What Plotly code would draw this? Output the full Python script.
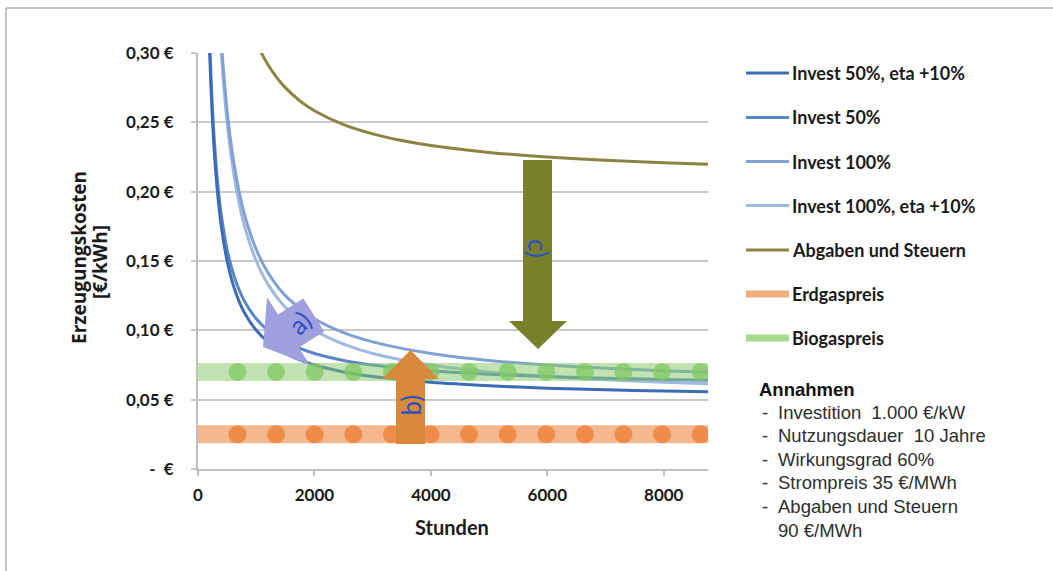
import plotly.graph_objects as go

# ---------------- data ----------------
hours_50 = [150, 175, 200, 250, 300, 350, 400, 500, 600, 700, 800, 1000, 1200,
            1500, 2000, 2500, 3000, 4000, 5000, 6000, 7000, 8000, 8760]
invest50_eta10 = [0.3833, 0.3357, 0.3000, 0.2500, 0.2167, 0.1929, 0.1750, 0.1500,
                  0.1333, 0.1214, 0.1125, 0.1000, 0.0917, 0.0833, 0.0750, 0.0700,
                  0.0667, 0.0625, 0.0600, 0.0583, 0.0571, 0.0563, 0.0557]
invest50 = [0.3917, 0.3440, 0.3083, 0.2583, 0.2250, 0.2012, 0.1833, 0.1583,
            0.1417, 0.1298, 0.1208, 0.1083, 0.1000, 0.0917, 0.0833, 0.0783,
            0.0750, 0.0708, 0.0683, 0.0667, 0.0655, 0.0646, 0.0640]

hours_100 = [300, 350, 400, 500, 600, 700, 800, 1000, 1200, 1500, 2000, 2500,
             3000, 4000, 5000, 6000, 7000, 8000, 8760]
invest100 = [0.3917, 0.3440, 0.3083, 0.2583, 0.2250, 0.2012, 0.1833, 0.1583,
             0.1417, 0.1250, 0.1083, 0.0983, 0.0917, 0.0833, 0.0783, 0.0750,
             0.0726, 0.0708, 0.0697]
invest100_eta10 = [0.3833, 0.3357, 0.3000, 0.2500, 0.2167, 0.1929, 0.1750, 0.1500,
                   0.1333, 0.1167, 0.1000, 0.0900, 0.0833, 0.0750, 0.0700, 0.0667,
                   0.0643, 0.0625, 0.0614]

hours_tax = [1000, 1100, 1200, 1350, 1500, 1750, 2000, 2500, 3000, 3500, 4000,
             5000, 6000, 7000, 8000, 8760]
abgaben_steuern = [0.3083, 0.2992, 0.2917, 0.2824, 0.2750, 0.2655, 0.2583, 0.2483,
                   0.2417, 0.2369, 0.2333, 0.2283, 0.2250, 0.2226, 0.2208, 0.2197]

band_hours = [0, 8760]
erdgas_band = [0.025, 0.025]
biogas_band = [0.070, 0.070]
dot_hours = [678, 1341, 2004, 2667, 3330, 3993, 4656, 5319, 5982, 6645, 7308, 7971, 8634]
erdgas_dots = [0.025, 0.025, 0.025, 0.025, 0.025, 0.025, 0.025,
               0.025, 0.025, 0.025, 0.025, 0.025, 0.025]
biogas_dots = [0.070, 0.070, 0.070, 0.070, 0.070, 0.070, 0.070,
               0.070, 0.070, 0.070, 0.070, 0.070, 0.070]

y_tickvals = [0, 0.05, 0.10, 0.15, 0.20, 0.25, 0.30]
y_ticktext = ["-\u00a0\u00a0€", "0,05 €", "0,10 €", "0,15 €", "0,20 €", "0,25 €", "0,30 €"]
x_tickvals = [0, 2000, 4000, 6000, 8000]
x_ticktext = ["0", "2000", "4000", "6000", "8000"]

legend_labels = ["Invest 50%, eta +10%", "Invest 50%", "Invest 100%",
                 "Invest 100%, eta +10%", "Abgaben und Steuern", "Erdgaspreis",
                 "Biogaspreis"]
notes_title = "Annahmen"
notes_lines = ["Investition\u00a0\u00a01.000 €/kW", "Nutzungsdauer\u00a0\u00a010 Jahre",
               "Wirkungsgrad 60%", "Strompreis 35 €/MWh", "Abgaben und Steuern",
               "90 €/MWh"]
notes_dash = [True, True, True, True, True, False]

# ---------------- styles ----------------
C_BLUE1 = "#3C6CB8"
C_BLUE2 = "#5A86C5"
C_BLUE3 = "#7FA1D3"
C_BLUE4 = "#9FBADF"
C_OLIVE = "#8A8342"
C_ORANGE_BAND = "rgba(237,125,49,0.55)"
C_ORANGE_DOT = "rgba(237,125,49,0.75)"
C_GREEN_BAND = "rgba(130,200,100,0.5)"
C_GREEN_DOT = "rgba(130,200,100,0.75)"
FONT = "Lato"
TXT = "#1a1a1a"

W, H = 1053, 571
L, R, T, B = 198, 708, 53, 469


def px(x):
    return (x - L) / (R - L)


def py(y):
    return (B - y) / (B - T)


fig = go.Figure()

curves = [
    (hours_100, invest100_eta10, C_BLUE4),
    (hours_100, invest100, C_BLUE3),
    (hours_50, invest50, C_BLUE2),
    (hours_50, invest50_eta10, C_BLUE1),
    (hours_tax, abgaben_steuern, C_OLIVE),
]
for xs, ys, col in curves:
    fig.add_trace(go.Scatter(x=xs, y=ys, mode="lines",
                             line=dict(color=col, width=3, shape="spline", smoothing=0.8),
                             hoverinfo="skip"))

for ys, col in [(erdgas_band, C_ORANGE_BAND), (biogas_band, C_GREEN_BAND)]:
    fig.add_trace(go.Scatter(x=band_hours, y=ys, mode="lines",
                             line=dict(color=col, width=18), hoverinfo="skip"))
for ys, col in [(erdgas_dots, C_ORANGE_DOT), (biogas_dots, C_GREEN_DOT)]:
    fig.add_trace(go.Scatter(x=dot_hours, y=ys, mode="markers",
                             marker=dict(color=col, size=18, line=dict(width=0)),
                             hoverinfo="skip"))

shapes = []
annotations = []

# outer frame (top and left edges visible)
shapes.append(dict(type="line", xref="paper", yref="paper", x0=px(6), x1=px(1053),
                   y0=py(8), y1=py(8), line=dict(color="#C4C4C4", width=2)))
shapes.append(dict(type="line", xref="paper", yref="paper", x0=px(6), x1=px(6),
                   y0=py(8), y1=py(571), line=dict(color="#C4C4C4", width=2)))


def poly(points):
    return "M " + " L ".join(f"{px(a):.5f},{py(b):.5f}" for a, b in points) + " Z"


# arrow a) (lavender, pointing down-left)
arrow_a = [(263, 347), (309.7, 364.8), (298.8, 347.5), (324.2, 331.5),
           (303.4, 298.5), (278, 314.5), (267.1, 297.2)]
shapes.append(dict(type="path", xref="paper", yref="paper", path=poly(arrow_a),
                   fillcolor="#A0A0DF", line=dict(width=0), layer="above"))
# arrow b) (orange, pointing up)
arrow_b = [(410.5, 350), (439, 379), (425, 379), (425, 444), (396, 444), (396, 379), (382, 379)]
shapes.append(dict(type="path", xref="paper", yref="paper", path=poly(arrow_b),
                   fillcolor="#D88A3A", line=dict(width=0), layer="above"))
# arrow c) (olive, pointing down)
arrow_c = [(538, 349), (567, 321), (552, 321), (552, 160), (523, 160), (523, 321), (509, 321)]
shapes.append(dict(type="path", xref="paper", yref="paper", path=poly(arrow_c),
                   fillcolor="#78802C", line=dict(width=0), layer="above"))

LBL = dict(family=FONT, size=26, color="#2F4FBE")
for xx, yy, tx, ang in [(299, 323, "a)", -45), (410.5, 405, "b)", -90), (538, 248, "c)", 90)]:
    annotations.append(dict(xref="paper", yref="paper", x=px(xx), y=py(yy), text=tx,
                            xanchor="center", yanchor="middle",
                            showarrow=False, textangle=ang, font=LBL))

# axis titles
TITLE = dict(family="Open Sans", size=19, color=TXT, weight="bold")
annotations.append(dict(xref="paper", yref="paper", x=px(79), y=py(258),
                        text="Erzeugungskosten", xanchor="center", yanchor="middle",
                        showarrow=False, textangle=-90, font=TITLE))
annotations.append(dict(xref="paper", yref="paper", x=px(100), y=py(262),
                        text="[€/kWh]", xanchor="center", yanchor="middle",
                        showarrow=False, textangle=-90, font=TITLE))
annotations.append(dict(xref="paper", yref="paper", x=px(452), y=py(527),
                        text="Stunden", xanchor="center", yanchor="middle",
                        showarrow=False, font=dict(family=FONT, size=20, color=TXT,
                                                   weight="bold")))

# manual legend
leg_rows = [73, 117.5, 161.5, 205.5, 250, 294, 338]
leg_cols = [C_BLUE1, C_BLUE2, C_BLUE3, C_BLUE4, C_OLIVE, "#F2AE80", "#A9D98E"]
leg_w = [3, 3, 3, 3, 3, 7, 7]
for yy, lab, col, lw in zip(leg_rows, legend_labels, leg_cols, leg_w):
    shapes.append(dict(type="line", xref="paper", yref="paper", x0=px(746), x1=px(789),
                       y0=py(yy), y1=py(yy), line=dict(color=col, width=lw)))
    annotations.append(dict(xref="paper", yref="paper", x=px(790), y=py(yy), text=lab,
                            xanchor="left", yanchor="middle", showarrow=False,
                            font=dict(family=FONT, size=18, color=TXT, weight="bold")))

# assumptions block
NOTE = dict(family="Liberation Sans", size=18.5, color="#2e2e2e")
annotations.append(dict(xref="paper", yref="paper", x=px(757), y=py(389), text=notes_title,
                        xanchor="left", yanchor="middle", showarrow=False,
                        font=dict(family="Liberation Sans", size=18.5, color="#111111",
                                  weight="bold")))
for i, (line, dash) in enumerate(zip(notes_lines, notes_dash)):
    yy = 412 + i * 23.6
    if dash:
        annotations.append(dict(xref="paper", yref="paper", x=px(760), y=py(yy), text="-",
                                xanchor="left", yanchor="middle", showarrow=False, font=NOTE))
    annotations.append(dict(xref="paper", yref="paper", x=px(776), y=py(yy), text=line,
                            xanchor="left", yanchor="middle", showarrow=False, font=NOTE))

TICKF = dict(family=FONT, size=17, color=TXT, weight="bold")
fig.update_layout(
    width=W, height=H,
    margin=dict(l=L, r=W - R, t=T, b=H - B, autoexpand=False),
    paper_bgcolor="white", plot_bgcolor="white",
    showlegend=False,
    shapes=shapes, annotations=annotations,
    xaxis=dict(range=[0, 8760], tickvals=x_tickvals, ticktext=x_ticktext,
               showgrid=False, zeroline=False, showline=True, linecolor="#BFBFBF",
               linewidth=2, ticks="outside", ticklen=5, tickcolor="#BFBFBF", tickwidth=2,
               tickfont=TICKF, ticklabelstandoff=5, fixedrange=True),
    yaxis=dict(range=[0, 0.30], tickvals=y_tickvals, ticktext=y_ticktext,
               showgrid=True, gridcolor="#C8C8C8", gridwidth=2, zeroline=False,
               showline=True, linecolor="#BFBFBF", linewidth=2,
               ticks="outside", ticklen=5, tickcolor="#C8C8C8", tickwidth=2,
               tickfont=TICKF, ticklabelstandoff=14, fixedrange=True),
)

fig.write_html("out.html", config={"displayModeBar": False},
               post_script="document.body.style.margin='0';")
